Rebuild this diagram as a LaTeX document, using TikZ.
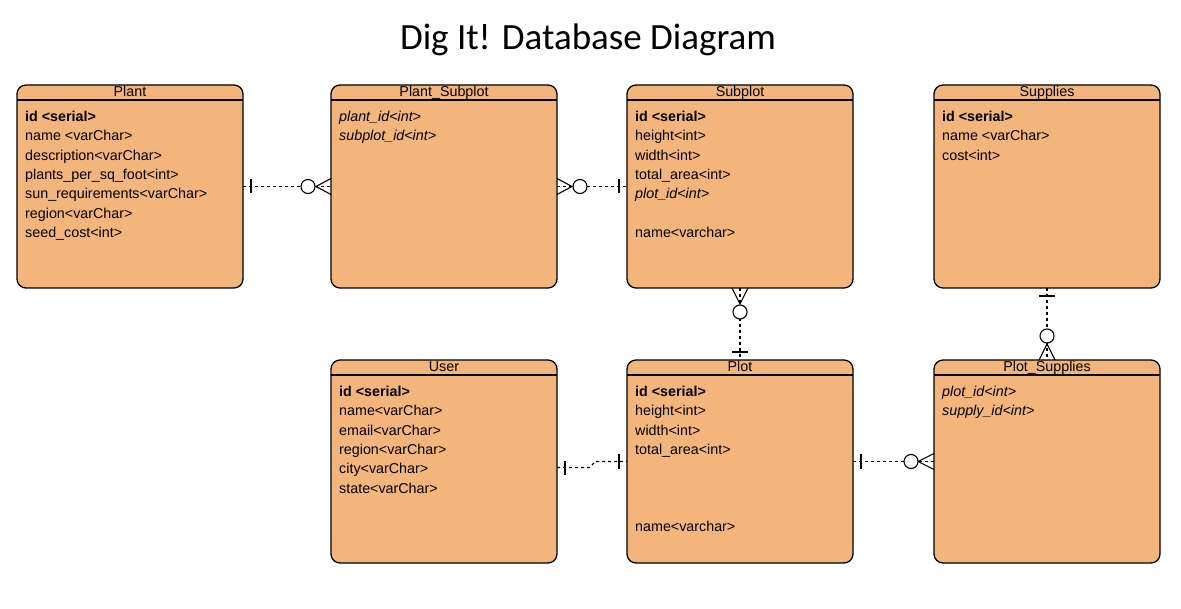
\documentclass[tikz,border=0pt]{standalone}
\usepackage{fontspec}
\setmainfont{Liberation Sans}
\newfontfamily\titlefont{Carlito}
\usetikzlibrary{calc}
\definecolor{tblfill}{HTML}{F3B57B}
\newcommand\ertable[4]{%
  \node[tbl] (#1) at (#2,#3) {};
  \draw[line width=1.2pt] ([yshift=-15pt]#1.north west) -- ([yshift=-15pt]#1.north east);
  \node[hdr] (#1-title) at ([yshift=-12pt]#1.north) {#4};}
\newcommand\erow[3]{\node[rowtxt] (#1-r#2) at ($(#1.north west)+(8,{36.5+19.35*#2})$) {#3};}
\begin{document}
\begin{tikzpicture}[x=1pt,y=-1pt,
  tbl/.style={draw=black, line width=1.3pt, fill=tblfill, rounded corners=9pt,
    minimum width=226pt, minimum height=203pt, inner sep=0pt, outer sep=0pt, anchor=north west},
  hdr/.style={font=\fontsize{14.3}{16}\selectfont, inner sep=0pt, anchor=base},
  rowtxt/.style={font=\fontsize{14.3}{16}\selectfont, inner sep=0pt, anchor=base west},
  conn/.style={line width=1.1pt, dash pattern=on 3pt off 3pt},
  sym/.style={line width=1.1pt},
  ring/.style={line width=1.1pt, fill=white, draw=black, circle, inner sep=0pt, minimum size=14pt}]
\fill[white] (0,0) rectangle (1181,609);
\useasboundingbox (0,0) rectangle (1181,609);

\node[font=\titlefont\fontsize{37}{40}\selectfont, inner sep=0pt] (title) at (588,40) {Dig It! Database Diagram};

% tables
\ertable{plant}{17}{85}{Plant}
\erow{plant}{0}{\textbf{id <serial>}}
\erow{plant}{1}{name <varChar>}
\erow{plant}{2}{description<varChar>}
\erow{plant}{3}{plants\_per\_sq\_foot<int>}
\erow{plant}{4}{sun\_requirements<varChar>}
\erow{plant}{5}{region<varChar>}
\erow{plant}{6}{seed\_cost<int>}

\ertable{ps}{331}{85}{Plant\_Subplot}
\erow{ps}{0}{\textit{plant\_id<int>}}
\erow{ps}{1}{\textit{subplot\_id<int>}}

\ertable{subplot}{627}{85}{Subplot}
\erow{subplot}{0}{\textbf{id <serial>}}
\erow{subplot}{1}{height<int>}
\erow{subplot}{2}{width<int>}
\erow{subplot}{3}{total\_area<int>}
\erow{subplot}{4}{\textit{plot\_id<int>}}
\erow{subplot}{6}{name<varchar>}

\ertable{supplies}{934}{85}{Supplies}
\erow{supplies}{0}{\textbf{id <serial>}}
\erow{supplies}{1}{name <varChar>}
\erow{supplies}{2}{cost<int>}

\ertable{user}{331}{360}{User}
\erow{user}{0}{\textbf{id <serial>}}
\erow{user}{1}{name<varChar>}
\erow{user}{2}{email<varChar>}
\erow{user}{3}{region<varChar>}
\erow{user}{4}{city<varChar>}
\erow{user}{5}{state<varChar>}

\ertable{plot}{627}{360}{Plot}
\erow{plot}{0}{\textbf{id <serial>}}
\erow{plot}{1}{height<int>}
\erow{plot}{2}{width<int>}
\erow{plot}{3}{total\_area<int>}
\erow{plot}{7}{name<varchar>}

\ertable{pls}{934}{360}{Plot\_Supplies}
\erow{pls}{0}{\textit{plot\_id<int>}}
\erow{pls}{1}{\textit{supply\_id<int>}}

% 1: Plant -> Plant_Subplot
\draw[conn] (plant.east) -- (ps.west);
\draw[sym] ($(plant.east)+(8,-7)$) -- ($(plant.east)+(8,7)$);
\draw[sym] ($(ps.west)+(0,-8)$) -- ($(ps.west)+(-15,0)$) -- ($(ps.west)+(0,8)$);
\node[ring] (ring1) at ($(ps.west)+(-23,0)$) {};

% 2: Plant_Subplot -> Subplot
\draw[conn] (ps.east) -- (subplot.west);
\draw[sym] ($(ps.east)+(0,-8)$) -- ($(ps.east)+(15,0)$) -- ($(ps.east)+(0,8)$);
\node[ring] (ring2) at ($(ps.east)+(23,0)$) {};
\draw[sym] ($(subplot.west)+(-8,-7)$) -- ($(subplot.west)+(-8,7)$);

% 3: Subplot -> Plot
\draw[conn] (subplot.south) -- (plot.north);
\draw[sym] ($(subplot.south)+(-8,0)$) -- ($(subplot.south)+(0,16)$) -- ($(subplot.south)+(8,0)$);
\node[ring] (ring3) at ($(subplot.south)+(0,24)$) {};
\draw[sym] ($(plot.north)+(-8,-8)$) -- ($(plot.north)+(8,-8)$);

% 4: Supplies -> Plot_Supplies
\draw[conn] (supplies.south) -- (pls.north);
\draw[sym] ($(supplies.south)+(-8,8)$) -- ($(supplies.south)+(8,8)$);
\draw[sym] ($(pls.north)+(-8,0)$) -- ($(pls.north)+(0,-16)$) -- ($(pls.north)+(8,0)$);
\node[ring] (ring4) at ($(pls.north)+(0,-24)$) {};

% 5: User -> Plot
\coordinate (uend) at ([yshift=-6pt]user.east);
\draw[conn] (uend) -- ++(33,0) -- ++(5,-6) -- (plot.west);
\draw[sym] ($(uend)+(8,-7)$) -- ($(uend)+(8,7)$);
\draw[sym] ($(plot.west)+(-8,-7)$) -- ($(plot.west)+(-8,7)$);

% 6: Plot -> Plot_Supplies
\draw[conn] (plot.east) -- (pls.west);
\draw[sym] ($(plot.east)+(8,-7)$) -- ($(plot.east)+(8,7)$);
\draw[sym] ($(pls.west)+(0,-8)$) -- ($(pls.west)+(-16,0)$) -- ($(pls.west)+(0,8)$);
\node[ring] (ring6) at ($(pls.west)+(-23,0)$) {};
\end{tikzpicture}
\end{document}
